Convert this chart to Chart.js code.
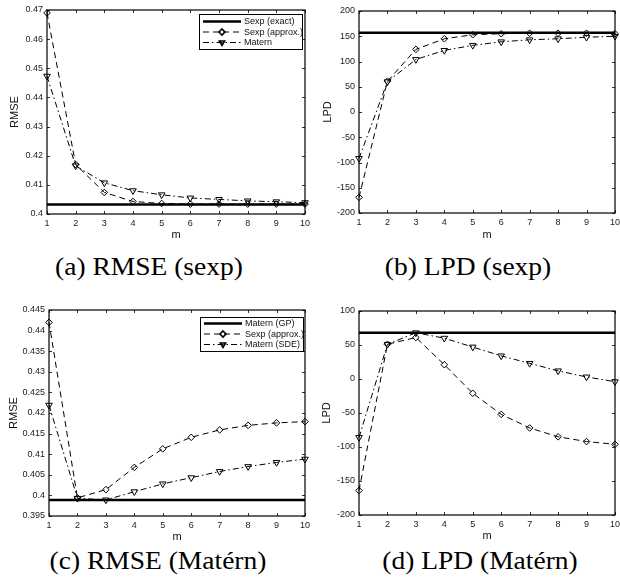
<!DOCTYPE html>
<html><head><meta charset="utf-8">
<script src="https://cdn.jsdelivr.net/npm/chart.js@4/dist/chart.umd.min.js"></script>
<style>
body{margin:0;background:#fff;width:620px;height:579px;position:relative;overflow:hidden}
canvas{position:absolute}
.cap{position:absolute;font-family:"Liberation Serif","Times New Roman",serif;font-size:25px;line-height:25px;color:#000;white-space:nowrap;transform:translateX(-50%) scaleX(1.1);transform-origin:center}
</style></head><body>
<canvas id="ca" width="310" height="245" style="left:0;top:0"></canvas>
<canvas id="cb" width="310" height="245" style="left:310px;top:0"></canvas>
<canvas id="cc" width="310" height="255" style="left:0;top:290px"></canvas>
<canvas id="cd" width="310" height="255" style="left:310px;top:290px"></canvas>
<div class="cap" style="left:149px;top:254px">(a) RMSE (sexp)</div>
<div class="cap" style="left:468px;top:254px">(b) LPD (sexp)</div>
<div class="cap" style="left:158px;top:548px">(c) RMSE (Matérn)</div>
<div class="cap" style="left:480px;top:548px">(d) LPD (Matérn)</div>
<script>
const mLabels = ['1','2','3','4','5','6','7','8','9','10'];

const yTicksA = [0.4,0.41,0.42,0.43,0.44,0.45,0.46,0.47];
const yTicksB = [-200,-150,-100,-50,0,50,100,150,200];
const yTicksC = [0.395,0.4,0.405,0.41,0.415,0.42,0.425,0.43,0.435,0.44,0.445];
const yTicksD = [-200,-150,-100,-50,0,50,100];

const legendLabelsTop = ['Sexp (exact)','Sexp (approx.)','Matern'];
const legendLabelsBottom = ['Matern (GP)','Sexp (approx.)','Matern (SDE)'];

// (a) RMSE (sexp)
const rmseSexpExact  = [0.4033,0.4033,0.4033,0.4033,0.4033,0.4033,0.4033,0.4033,0.4033,0.4033];
const rmseSexpApprox = [0.469,0.417,0.4074,0.4043,0.4036,0.4034,0.4034,0.4034,0.4034,0.4034];
const rmseSexpMatern = [0.4473,0.4165,0.4107,0.4080,0.4066,0.4055,0.4050,0.4045,0.4042,0.4039];
// (b) LPD (sexp)
const lpdSexpExact  = [157,157,157,157,157,157,157,157,157,157];
const lpdSexpApprox = [-169,61,124,145,153,155,156,156,156,155];
const lpdSexpMatern = [-92,60,104,122,132,139,143,145,148,150];
// (c) RMSE (Matern)
const rmseMatGP     = [0.3989,0.3989,0.3989,0.3989,0.3989,0.3989,0.3989,0.3989,0.3989,0.3989];
const rmseMatSexp   = [0.4420,0.3994,0.4014,0.4068,0.4113,0.4141,0.4159,0.4170,0.4176,0.4179];
const rmseMatSDE    = [0.4219,0.3993,0.3989,0.4009,0.4028,0.4043,0.4058,0.4070,0.4080,0.4088];
// (d) LPD (Matern)
const lpdMatGP   = [68,68,68,68,68,68,68,68,68,68];
const lpdMatSexp = [-164,51,61,21,-21,-52,-72,-85,-92,-96];
const lpdMatSDE  = [-86,51,68,60,47,34,23,12,3,-4];

Chart.defaults.font.family = '"Liberation Sans", Arial, sans-serif';
Chart.defaults.color = '#222';

function drawMarker(ctx, style, x, y, r){
  ctx.beginPath();
  if(style==='diamond'){
    ctx.moveTo(x, y-r); ctx.lineTo(x+r, y); ctx.lineTo(x, y+r); ctx.lineTo(x-r, y); ctx.closePath();
  } else {
    ctx.moveTo(x-r*0.87, y-r*0.5); ctx.lineTo(x+r*0.87, y-r*0.5); ctx.lineTo(x, y+r); ctx.closePath();
  }
  ctx.stroke();
}

const framePlugin = {
  id:'frame',
  afterDatasetsDraw(chart, args, opts){
    const ctx = chart.ctx, a = chart.chartArea;
    const xs = chart.scales.x, ys = chart.scales.y;
    ctx.save();
    ctx.strokeStyle = '#000';
    ctx.lineWidth = 0.8;
    ctx.setLineDash([]);
    ctx.beginPath();
    xs.ticks.forEach((t,i)=>{
      const px = Math.round(xs.getPixelForTick(i))+0.5;
      ctx.moveTo(px, a.bottom); ctx.lineTo(px, a.bottom-3);
      ctx.moveTo(px, a.top); ctx.lineTo(px, a.top+3);
    });
    ys.ticks.forEach(t=>{
      const py = Math.round(ys.getPixelForValue(t.value))+0.5;
      ctx.moveTo(a.left, py); ctx.lineTo(a.left+3, py);
      ctx.moveTo(a.right, py); ctx.lineTo(a.right-3, py);
    });
    ctx.stroke();
    ctx.lineWidth = 1.2;
    ctx.strokeRect(a.left, a.top, a.right-a.left, a.bottom-a.top);
    // legend
    if(opts && opts.box){
      const b = opts.box;
      ctx.fillStyle = '#fff';
      ctx.fillRect(b.x, b.y, b.w, b.h);
      ctx.lineWidth = 1;
      ctx.strokeRect(b.x+0.5, b.y+0.5, b.w, b.h);
      ctx.font = '9px "Liberation Sans", Arial, sans-serif';
      ctx.textBaseline = 'middle';
      chart.data.datasets.forEach((ds,i)=>{
        const yy = b.y + b.rowStart + i*b.rowGap;
        ctx.strokeStyle = '#000';
        ctx.lineWidth = ds.borderWidth;
        ctx.setLineDash(ds.borderDash || []);
        ctx.beginPath(); ctx.moveTo(b.x+4, yy); ctx.lineTo(b.x+42, yy); ctx.stroke();
        ctx.setLineDash([]);
        if(ds.marker){
          ctx.lineWidth = 1.6;
          drawMarker(ctx, ds.marker, b.x+23, yy, 3);
        }
        ctx.fillStyle = '#111';
        ctx.fillText(ds.label, b.x+45, yy+0.5);
      });
    }
    ctx.restore();
  }
};

function fmt(v){ return String(+Number(v).toFixed(4)); }

function makeChart(id, p){
  const ctx = document.getElementById(id);
  const mk = (label, data, kind) => {
    const base = {label, data, borderColor:'#000', backgroundColor:'#000', tension:0, clip:false};
    if(kind==='exact') return Object.assign(base,{borderWidth:2.5, pointRadius:0, borderDash:[]});
    if(kind==='sexp') return Object.assign(base,{borderWidth:1, borderDash:[6,4], pointStyle:'rectRot', pointRadius:3.3, pointBorderWidth:1, pointBorderColor:'#000', pointBackgroundColor:'rgba(0,0,0,0)', marker:'diamond'});
    return Object.assign(base,{borderWidth:1, borderDash:[6,3,1.5,3], pointStyle:'triangle', pointRotation:180, pointRadius:3.8, pointBorderWidth:1, pointBorderColor:'#000', pointBackgroundColor:'rgba(0,0,0,0)', marker:'tri'});
  };
  return new Chart(ctx, {
    type:'line',
    data:{
      labels: mLabels,
      datasets:[mk(p.labels[0], p.series[0], 'exact'), mk(p.labels[1], p.series[1], 'sexp'), mk(p.labels[2], p.series[2], 'mat')]
    },
    options:{
      responsive:false, animation:false,
      layout:{padding:{left:0, top:p.padTop, right:2, bottom:0}},
      plugins:{legend:{display:false}, tooltip:{enabled:false}, frame:{box:p.box}},
      scales:{
        x:{type:'category', offset:false,
           grid:{display:false, drawTicks:false}, border:{display:false},
           ticks:{padding:4, font:{size:9}, color:'#222', maxRotation:0, autoSkip:false},
           title:{display:true, text:'m', font:{size:11}, color:'#111', padding:{top:0,bottom:p.xTitlePad}},
           afterFit(s){ s.height = p.xh; s.paddingLeft = 0; s.paddingRight = 0; }
        },
        y:{type:'linear', min:p.ticks[0], max:p.ticks[p.ticks.length-1],
           afterBuildTicks(s){ s.ticks = p.ticks.map(v=>({value:v})); },
           grid:{display:false, drawTicks:false}, border:{display:false},
           ticks:{padding:4, font:{size:9}, color:'#222', callback:(v)=>fmt(v)},
           title:{display:true, text:p.yTitle, font:{size:11}, color:'#111', padding:{top:p.yTitlePad,bottom:0}},
           afterFit(s){ s.width = p.yw; s.paddingTop = 0; s.paddingBottom = 0; }
        }
      }
    },
    plugins:[framePlugin]
  });
}

makeChart('ca', {labels:legendLabelsTop, series:[rmseSexpExact,rmseSexpApprox,rmseSexpMatern], ticks:yTicksA, yTitle:'RMSE',
  padTop:10, xh:31, yw:47, xTitlePad:3, yTitlePad:8, box:{x:199,y:14,w:103,h:35,rowStart:7.5,rowGap:10.5}});
makeChart('cb', {labels:legendLabelsTop, series:[lpdSexpExact,lpdSexpApprox,lpdSexpMatern], ticks:yTicksB, yTitle:'LPD',
  padTop:11, xh:32, yw:49, xTitlePad:3, yTitlePad:11, box:null});
makeChart('cc', {labels:legendLabelsBottom, series:[rmseMatGP,rmseMatSexp,rmseMatSDE], ticks:yTicksC, yTitle:'RMSE',
  padTop:20, xh:29, yw:49, xTitlePad:1.5, yTitlePad:7.5, box:{x:200,y:27,w:103,h:34,rowStart:6.5,rowGap:10.5}});
makeChart('cd', {labels:legendLabelsBottom, series:[lpdMatGP,lpdMatSexp,lpdMatSDE], ticks:yTicksD, yTitle:'LPD',
  padTop:21, xh:30, yw:49, xTitlePad:2, yTitlePad:10, box:null});
</script>
</body></html>
